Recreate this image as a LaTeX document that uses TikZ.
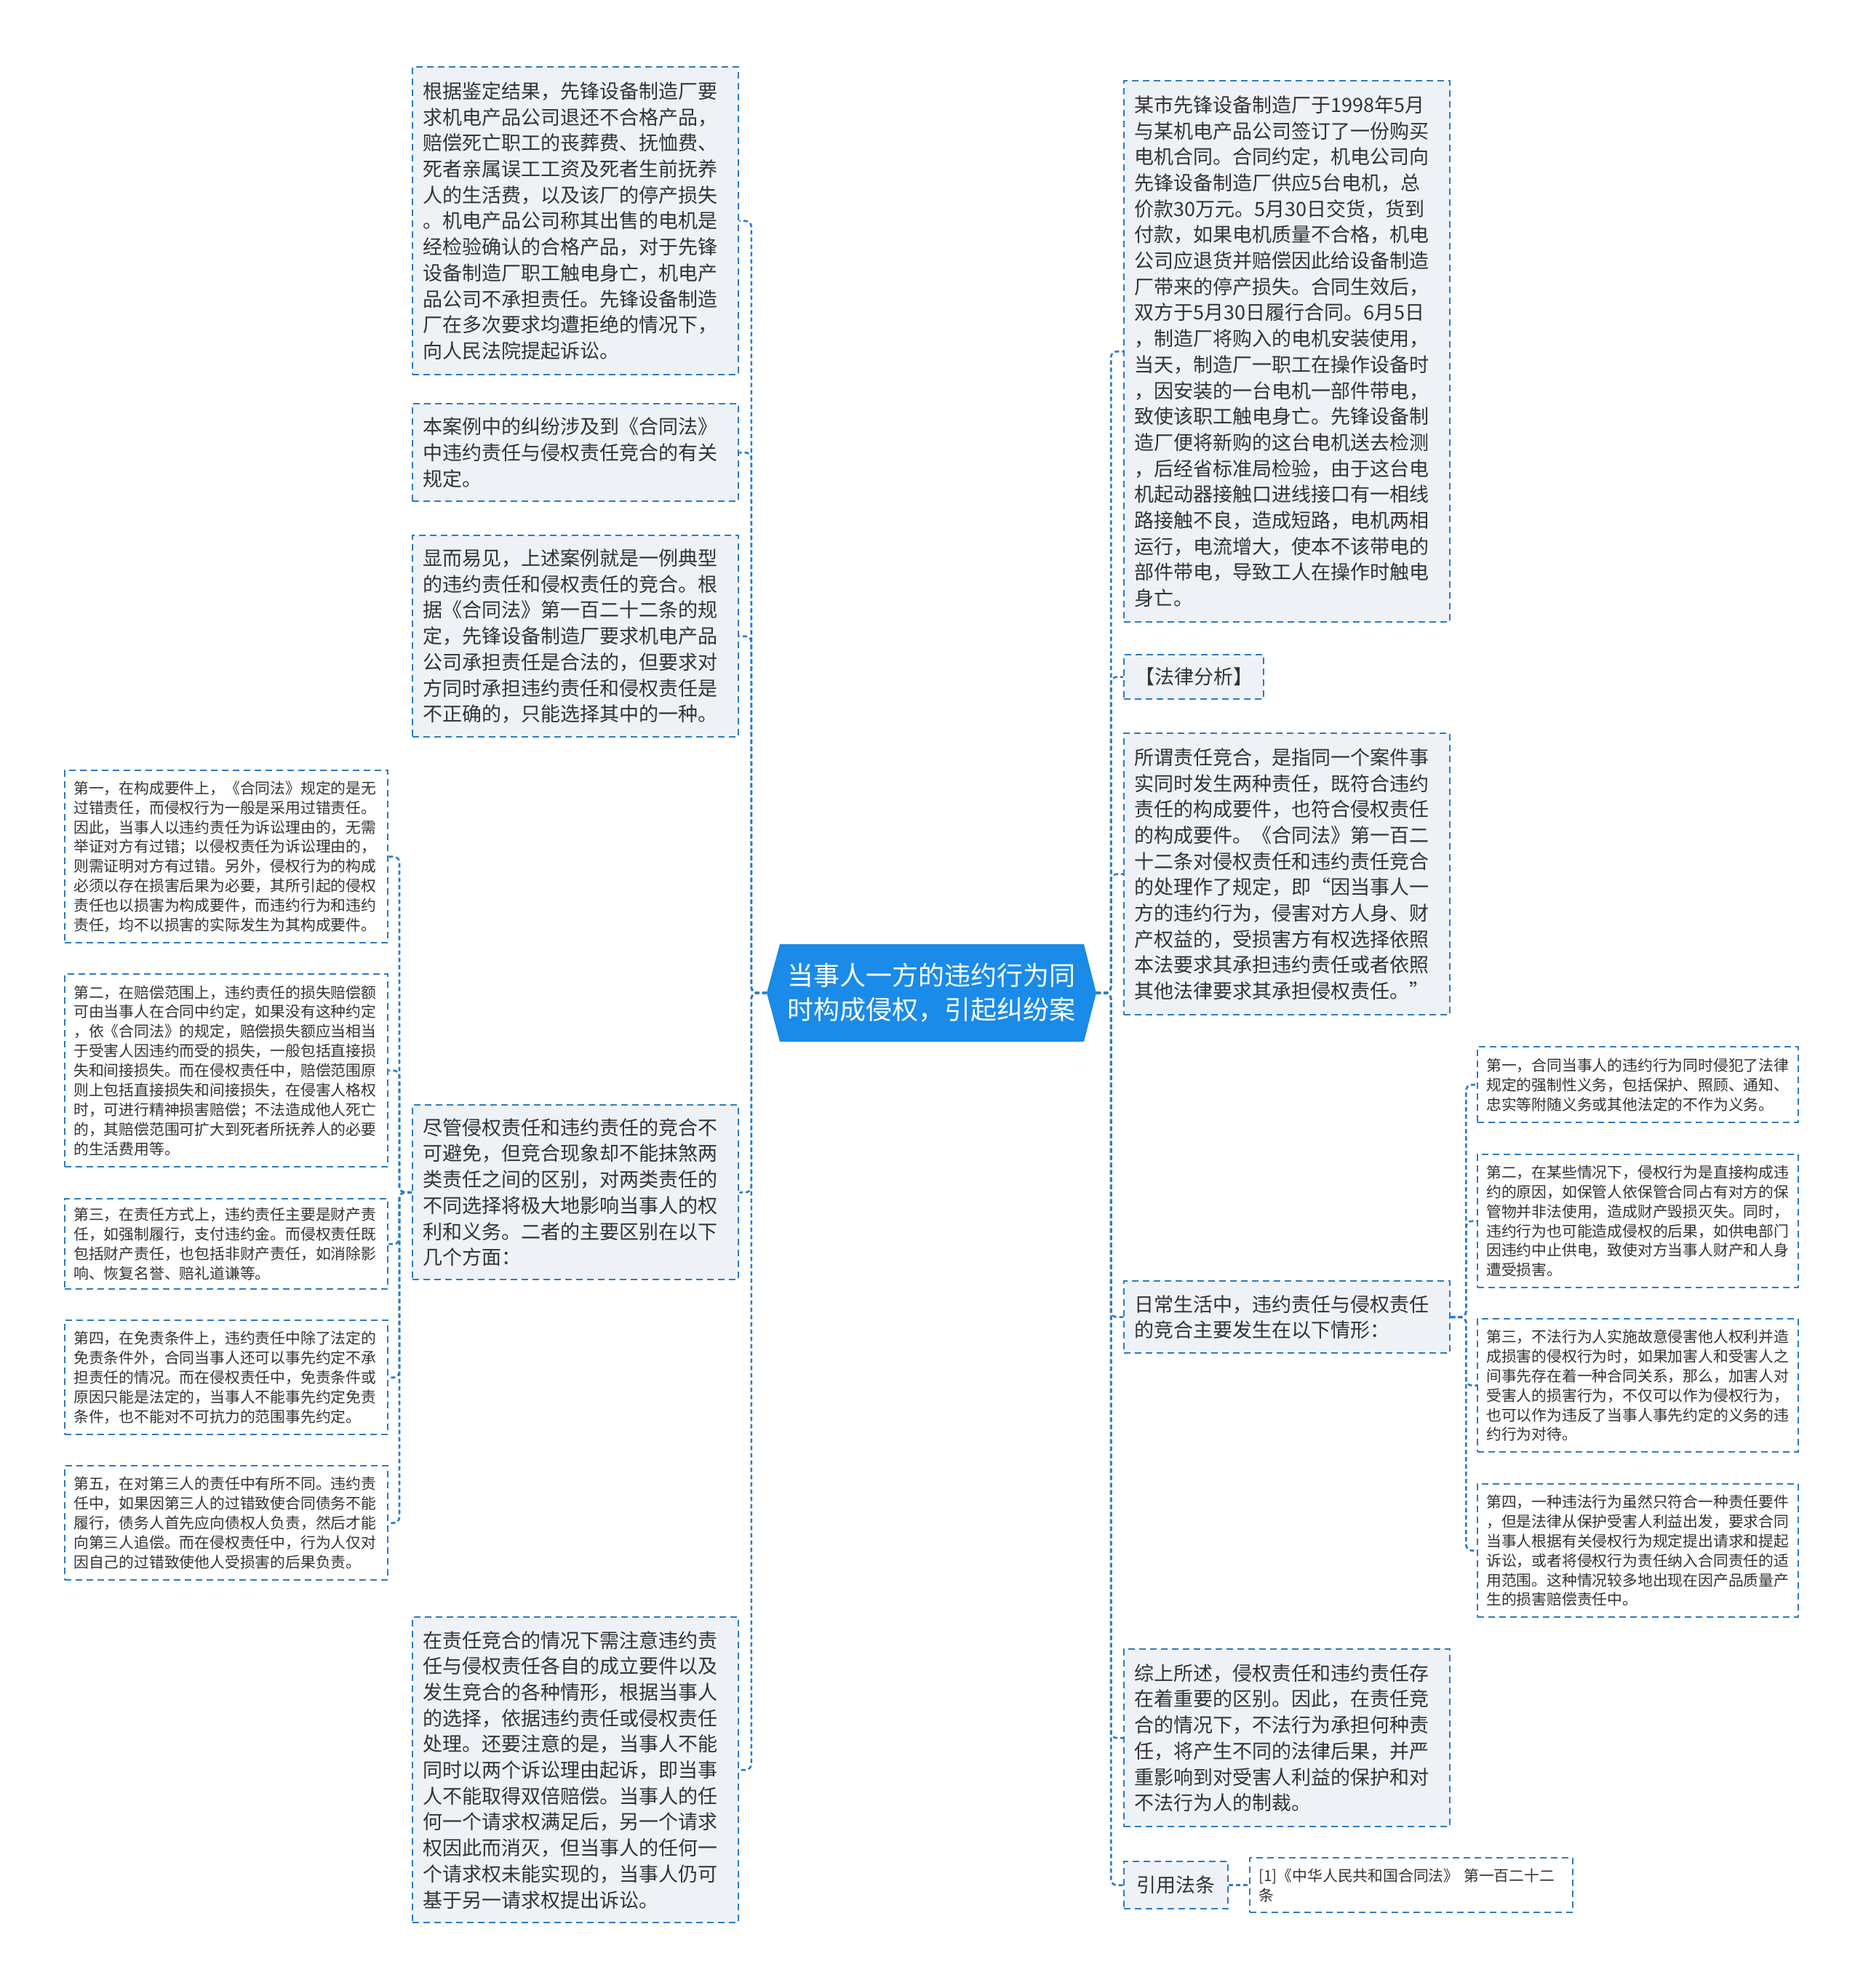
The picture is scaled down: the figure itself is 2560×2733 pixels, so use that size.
\documentclass[tikz,border=0pt]{standalone}
\usepackage{fontspec}
\setmainfont{Noto Sans CJK SC}
\definecolor{lineblue}{HTML}{2B7BC4}
\definecolor{boxfill}{HTML}{EEF2F6}
\definecolor{centerblue}{HTML}{1A8BE8}
\definecolor{textgray}{HTML}{333333}
\newcommand\fntbig{\fontsize{27pt}{35.7pt}\selectfont\lineskiplimit=-100pt\lineskip=0pt\relax}
\newcommand\fntsmall{\fontsize{20.8pt}{26.9pt}\selectfont\lineskiplimit=-100pt\lineskip=0pt\relax}
\newcommand\fntcenter{\fontsize{36pt}{47pt}\selectfont\lineskiplimit=-100pt\lineskip=0pt\relax}
\begin{document}
\begin{tikzpicture}[x=1pt,y=-1pt,
  boxline/.style={draw=lineblue, line width=2.4pt, dash pattern=on 9pt off 6pt},
  bigbox/.style={boxline, fill=boxfill, text=textgray, font=\fntbig, text width=420pt,
    inner xsep=14pt, inner ysep=4pt, align=left, anchor=north west},
  smallbox/.style={boxline, fill=white, text=textgray, font=\fntsmall, text width=417pt,
    inner xsep=12pt, inner ysep=4pt, align=left, anchor=north west},
  labelbox/.style={boxline, fill=boxfill, text=textgray, font=\fntbig, inner sep=0pt,
    anchor=north west},
  conn/.style={draw=lineblue, line width=2.6pt, dash pattern=on 6pt off 4pt, rounded corners=8pt}]
\useasboundingbox (0,0) rectangle (2560,2733);
\fill[white] (0,0) rectangle (2560,2733);

% centre
\fill[centerblue] (1054,1365) -- (1072,1298) -- (1490,1298) -- (1507,1365) -- (1490,1432) -- (1072,1432) -- cycle;
\node[font=\fntcenter, text=white, align=center, minimum width=453pt, minimum height=134pt, inner sep=0pt] (C) at (1280.5,1365)
 {当事人一方的违约行为同\\时构成侵权，引起纠纷案};

% left big boxes
\node[bigbox, minimum height=423pt] (L1) at (566,91) {根据鉴定结果，先锋设备制造厂要\\求机电产品公司退还不合格产品，\\赔偿死亡职工的丧葬费、抚恤费、\\死者亲属误工工资及死者生前抚养\\人的生活费，以及该厂的停产损失\\。机电产品公司称其出售的电机是\\经检验确认的合格产品，对于先锋\\设备制造厂职工触电身亡，机电产\\品公司不承担责任。先锋设备制造\\厂在多次要求均遭拒绝的情况下，\\向人民法院提起诉讼。};
\node[bigbox, minimum height=134pt] (L2) at (566,554) {本案例中的纠纷涉及到《合同法》\\中违约责任与侵权责任竞合的有关\\规定。};
\node[bigbox, minimum height=277pt] (L3) at (566,735) {显而易见，上述案例就是一例典型\\的违约责任和侵权责任的竞合。根\\据《合同法》第一百二十二条的规\\定，先锋设备制造厂要求机电产品\\公司承担责任是合法的，但要求对\\方同时承担违约责任和侵权责任是\\不正确的，只能选择其中的一种。};
\node[bigbox, minimum height=240pt] (L4) at (566,1518) {尽管侵权责任和违约责任的竞合不\\可避免，但竞合现象却不能抹煞两\\类责任之间的区别，对两类责任的\\不同选择将极大地影响当事人的权\\利和义务。二者的主要区别在以下\\几个方面：};
\node[bigbox, minimum height=420pt] (L5) at (566,2222) {在责任竞合的情况下需注意违约责\\任与侵权责任各自的成立要件以及\\发生竞合的各种情形，根据当事人\\的选择，依据违约责任或侵权责任\\处理。还要注意的是，当事人不能\\同时以两个诉讼理由起诉，即当事\\人不能取得双倍赔偿。当事人的任\\何一个请求权满足后，另一个请求\\权因此而消灭，但当事人的任何一\\个请求权未能实现的，当事人仍可\\基于另一请求权提出诉讼。};

% left small boxes
\node[smallbox, text width=420pt, minimum height=237pt] (S1) at (88,1058) {第一，在构成要件上，《合同法》规定的是无\\过错责任，而侵权行为一般是采用过错责任。\\因此，当事人以违约责任为诉讼理由的，无需\\举证对方有过错；以侵权责任为诉讼理由的，\\则需证明对方有过错。另外，侵权行为的构成\\必须以存在损害后果为必要，其所引起的侵权\\责任也以损害为构成要件，而违约行为和违约\\责任，均不以损害的实际发生为其构成要件。};
\node[smallbox, text width=420pt, minimum height=265pt] (S2) at (88,1338) {第二，在赔偿范围上，违约责任的损失赔偿额\\可由当事人在合同中约定，如果没有这种约定\\，依《合同法》的规定，赔偿损失额应当相当\\于受害人因违约而受的损失，一般包括直接损\\失和间接损失。而在侵权责任中，赔偿范围原\\则上包括直接损失和间接损失，在侵害人格权\\时，可进行精神损害赔偿；不法造成他人死亡\\的，其赔偿范围可扩大到死者所抚养人的必要\\的生活费用等。};
\node[smallbox, text width=420pt, minimum height=124pt] (S3) at (88,1647) {第三，在责任方式上，违约责任主要是财产责\\任，如强制履行，支付违约金。而侵权责任既\\包括财产责任，也包括非财产责任，如消除影\\响、恢复名誉、赔礼道谦等。};
\node[smallbox, text width=420pt, minimum height=157pt] (S4) at (88,1814) {第四，在免责条件上，违约责任中除了法定的\\免责条件外，合同当事人还可以事先约定不承\\担责任的情况。而在侵权责任中，免责条件或\\原因只能是法定的，当事人不能事先约定免责\\条件，也不能对不可抗力的范围事先约定。};
\node[smallbox, text width=420pt, minimum height=157pt] (S5) at (88,2014) {第五，在对第三人的责任中有所不同。违约责\\任中，如果因第三人的过错致使合同债务不能\\履行，债务人首先应向债权人负责，然后才能\\向第三人追偿。而在侵权责任中，行为人仅对\\因自己的过错致使他人受损害的后果负责。};

% right boxes
\node[bigbox, minimum height=744pt] (R1) at (1544,110) {某市先锋设备制造厂于1998年5月\\与某机电产品公司签订了一份购买\\电机合同。合同约定，机电公司向\\先锋设备制造厂供应5台电机，总\\价款30万元。5月30日交货，货到\\付款，如果电机质量不合格，机电\\公司应退货并赔偿因此给设备制造\\厂带来的停产损失。合同生效后，\\双方于5月30日履行合同。6月5日\\，制造厂将购入的电机安装使用，\\当天，制造厂一职工在操作设备时\\，因安装的一台电机一部件带电，\\致使该职工触电身亡。先锋设备制\\造厂便将新购的这台电机送去检测\\，后经省标准局检验，由于这台电\\机起动器接触口进线接口有一相线\\路接触不良，造成短路，电机两相\\运行，电流增大，使本不该带电的\\部件带电，导致工人在操作时触电\\身亡。};
\node[labelbox, minimum width=192pt, minimum height=61pt] (R2) at (1544,899) {【法律分析】};
\node[bigbox, minimum height=387pt] (R3) at (1544,1007) {所谓责任竞合，是指同一个案件事\\实同时发生两种责任，既符合违约\\责任的构成要件，也符合侵权责任\\的构成要件。《合同法》第一百二\\十二条对侵权责任和违约责任竞合\\的处理作了规定，即“因当事人一\\方的违约行为，侵害对方人身、财\\产权益的，受损害方有权选择依照\\本法要求其承担违约责任或者依照\\其他法律要求其承担侵权责任。”};
\node[bigbox, minimum height=99pt] (R4) at (1544,1760) {日常生活中，违约责任与侵权责任\\的竞合主要发生在以下情形：};
\node[bigbox, minimum height=244pt] (R5) at (1544,2266) {综上所述，侵权责任和违约责任存\\在着重要的区别。因此，在责任竞\\合的情况下，不法行为承担何种责\\任，将产生不同的法律后果，并严\\重影响到对受害人利益的保护和对\\不法行为人的制裁。};
\node[labelbox, minimum width=143pt, minimum height=65pt] (R6) at (1544,2558) {引用法条};
\node[smallbox, text width=420pt, minimum height=75pt] (R7) at (1717,2553) {[1]《中华人民共和国合同法》 第一百二十二\\条};

% right small boxes
\node[smallbox, minimum height=104pt] (Q1) at (2030,1438) {第一，合同当事人的违约行为同时侵犯了法律\\规定的强制性义务，包括保护、照顾、通知、\\忠实等附随义务或其他法定的不作为义务。};
\node[smallbox, minimum height=183pt] (Q2) at (2030,1586) {第二，在某些情况下，侵权行为是直接构成违\\约的原因，如保管人依保管合同占有对方的保\\管物并非法使用，造成财产毁损灭失。同时，\\违约行为也可能造成侵权的后果，如供电部门\\因违约中止供电，致使对方当事人财产和人身\\遭受损害。};
\node[smallbox, minimum height=183pt] (Q3) at (2030,1812) {第三，不法行为人实施故意侵害他人权利并造\\成损害的侵权行为时，如果加害人和受害人之\\间事先存在着一种合同关系，那么，加害人对\\受害人的损害行为，不仅可以作为侵权行为，\\也可以作为违反了当事人事先约定的义务的违\\约行为对待。};
\node[smallbox, minimum height=183pt] (Q4) at (2030,2039) {第四，一种违法行为虽然只符合一种责任要件\\，但是法律从保护受害人利益出发，要求合同\\当事人根据有关侵权行为规定提出请求和提起\\诉讼，或者将侵权行为责任纳入合同责任的适\\用范围。这种情况较多地出现在因产品质量产\\生的损害赔偿责任中。};

% connectors left
\foreach \n in {L1,L2,L3,L4,L5}
  \draw[conn] (C.west) -- ++(-21,0) |- (\n.east);
\foreach \n in {S1,S2,S3,S4,S5}
  \draw[conn] (L4.west) -- ++(-17,0) |- (\n.east);
% connectors right
\foreach \n in {R1,R2,R3,R4,R5,R6}
  \draw[conn] (C.east) -- ++(20,0) |- (\n.west);
\foreach \n in {Q1,Q2,Q3,Q4}
  \draw[conn] (R4.east) -- ++(21,0) |- (\n.west);
\draw[conn] (R6.east) -- (R6.east -| R7.west);
\end{tikzpicture}
\end{document}
